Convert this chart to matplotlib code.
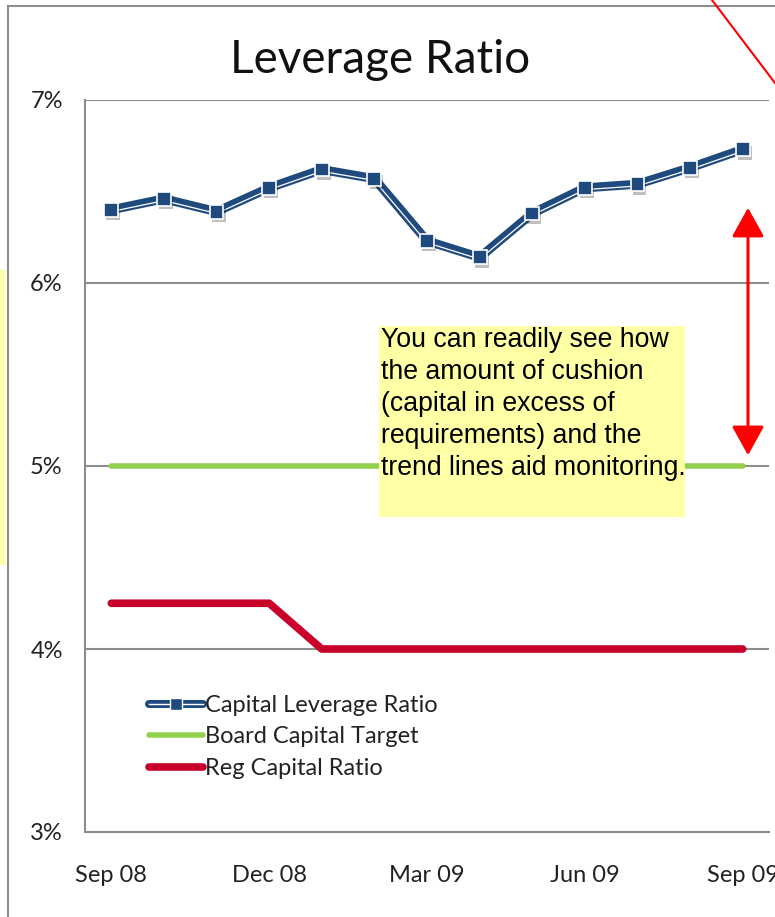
import matplotlib
matplotlib.use("Agg")
import matplotlib.pyplot as plt
import matplotlib.transforms as mtransforms
import matplotlib.patheffects as pe
from matplotlib.lines import Line2D
from matplotlib.patches import Rectangle, FancyArrowPatch
from matplotlib.legend_handler import HandlerTuple

# ---- data ----
months = ["Sep 08", "Oct 08", "Nov 08", "Dec 08", "Jan 09", "Feb 09", "Mar 09",
          "Apr 09", "May 09", "Jun 09", "Jul 09", "Aug 09", "Sep 09"]
leverage = [6.40, 6.46, 6.39, 6.52, 6.62, 6.57, 6.23, 6.14, 6.38, 6.52, 6.54, 6.63, 6.73]
board_target = [5.0] * 13
reg_ratio = [4.25, 4.25, 4.25, 4.25, 4.0, 4.0, 4.0, 4.0, 4.0, 4.0, 4.0, 4.0, 4.0]
tick_months = ["Sep 08", "Dec 08", "Mar 09", "Jun 09", "Sep 09"]
y_ticks = [3, 4, 5, 6, 7]

BLUE = "#1F4A7E"
GREEN = "#92D050"
RED = "#C8002A"
GRID = "#8C8C8C"
FONT = "Lato"

W, H = 775, 917
fig = plt.figure(figsize=(W / 100, H / 100), dpi=100)

def px(x, y):
    return x / W, 1 - y / H

# frame lines around the chart area
fig.add_artist(Line2D([8 / W, 8 / W], [0, 1 - 6 / H], color=GRID, lw=1.5))
fig.add_artist(Line2D([8 / W, 1], [1 - 6 / H, 1 - 6 / H], color=GRID, lw=1.5))
# yellow strip at the left edge
fig.add_artist(Rectangle(px(0, 565), 6 / W, 295 / H, color="#FFFFB0", lw=0))

ax = fig.add_axes([85 / W, (H - 832) / H, (769 - 85) / W, (832 - 100) / H])
x = list(range(len(months)))

ax.set_xlim(-0.5, 12.5)
ax.set_ylim(3, 7)
for s in ["top", "right"]:
    ax.spines[s].set_visible(False)
for s in ["left", "bottom"]:
    ax.spines[s].set_color(GRID)
    ax.spines[s].set_linewidth(1.5)
ax.set_yticks(y_ticks)
ax.set_yticklabels([f"{v}%" for v in y_ticks])
ax.set_xticks([months.index(m) for m in tick_months])
ax.set_xticklabels(tick_months)
ax.tick_params(length=0, labelsize=17, colors="#222222", pad=0)
ax.tick_params(axis="y", pad=16)
ax.tick_params(axis="x", pad=24)
for lab in ax.get_xticklabels() + ax.get_yticklabels():
    lab.set_fontfamily(FONT)
for v in y_ticks[1:]:
    ax.axhline(v, color=GRID, lw=1.5, zorder=1)

# series
ax.plot(x, board_target, color=GREEN, lw=4, solid_capstyle="round", zorder=3)
ax.plot(x, reg_ratio, color=RED, lw=5.5, solid_capstyle="round", zorder=3)

shadow = [pe.SimplePatchShadow(offset=(1.5, -2.5), shadow_rgbFace="#000000", alpha=0.25), pe.Normal()]
ax.plot(x, leverage, color=BLUE, lw=6.5, zorder=4, solid_joinstyle="miter")
white_tr = mtransforms.offset_copy(ax.transData, fig=fig, x=0, y=-1.8, units="dots")
ax.plot(x, leverage, color="white", lw=0.9, zorder=5, transform=white_tr)
ax.plot(x, leverage, ls="none", marker="s", ms=10, mfc=BLUE, mec="white", mew=1.2,
        zorder=6, path_effects=shadow)

# title
fig.text(380 / W, 1 - 60 / H, "Leverage Ratio", ha="center", va="center",
         fontsize=33, fontfamily=FONT, fontweight="normal", color="#111111")

# legend
h_lev = (Line2D([], [], color=BLUE, lw=5.8, solid_capstyle="round"),
         Line2D([], [], color="white", lw=1.0),
         Line2D([], [], ls="none", marker="s", ms=8, mfc=BLUE, mec="white", mew=1))
h_board = Line2D([], [], color=GREEN, lw=4, solid_capstyle="round")
h_reg = Line2D([], [], color=RED, lw=5.5, solid_capstyle="round")
leg = ax.legend([h_lev, h_board, h_reg],
                ["Capital Leverage Ratio", "Board Capital Target", "Reg Capital Ratio"],
                handler_map={tuple: HandlerTuple(ndivide=1)},
                loc="upper left", bbox_to_anchor=px(137, 683), bbox_transform=fig.transFigure,
                frameon=False, borderpad=0, handlelength=2.3, handletextpad=0.1,
                labelspacing=0.45, prop={"family": FONT, "size": 17})
for t in leg.get_texts():
    t.set_color("#222222")

# annotation box
note = ("You can readily see how\nthe amount of cushion\n(capital in excess of\n"
        "requirements) and the\ntrend lines aid monitoring.")
fig.add_artist(Rectangle(px(379, 517), (685 - 379) / W, (517 - 326) / H,
                         color="#FFFFA6", lw=0, zorder=7))
fig.text(381 / W, 1 - 327 / H, note, ha="left", va="top", fontsize=19.2,
         fontfamily="Liberation Sans", color="black", linespacing=1.3, zorder=8)

# double arrow showing the cushion
arr = FancyArrowPatch(px(748, 205), px(748, 458), transform=fig.transFigure,
                      arrowstyle="<|-|>,head_length=18,head_width=10",
                      color="#FF0000", lw=2.2, mutation_scale=1, zorder=9)
fig.add_artist(arr)
# red connector at the top right
fig.add_artist(Line2D([712 / W, 1], [1, 1 - 83 / H], color="#FF0000", lw=1.5))

fig.savefig("out.png", dpi=100)
